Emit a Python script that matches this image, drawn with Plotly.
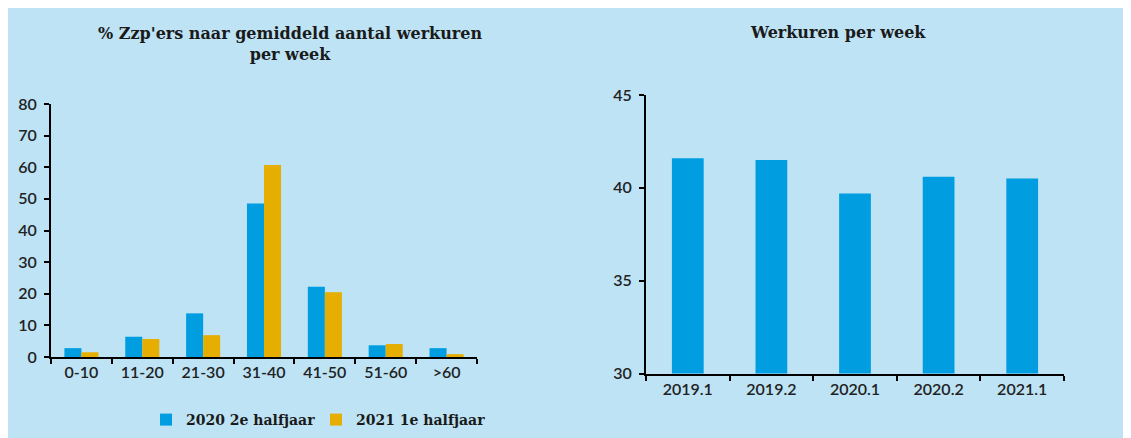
import plotly.graph_objects as go

# Page offset: the browser's default body margin places the figure at (8, 8)
OFF = 8
W, H = 1131 - OFF, 438 - OFF

# Left chart data
categories = ["0-10", "11-20", "21-30", "31-40", "41-50", "51-60", ">60"]
series_2020_h2 = [2.8, 6.4, 13.8, 48.5, 22.2, 3.7, 2.8]
series_2021_h1 = [1.5, 5.7, 6.9, 60.7, 20.5, 4.1, 0.9]
series_names = ["2020 2e halfjaar", "2021 1e halfjaar"]

# Right chart data
periods = ["2019.1", "2019.2", "2020.1", "2020.2", "2021.1"]
werkuren = [41.6, 41.5, 39.7, 40.6, 40.5]

BG = "#BDE3F5"
BLUE = "#009EE0"
ORANGE = "#E6AE00"
TXT = "#1a1a1a"
TICKFONT = dict(family="Lato, Open Sans, sans-serif", size=16, color="#222222", weight=600)
SERIF = "DejaVu Serif, Liberation Serif, serif"

def px(x):
    return (x - OFF) / W

def py(y):
    return 1 - (y - OFF) / H

fig = go.Figure()
fig.add_trace(go.Bar(x=categories, y=series_2020_h2, name=series_names[0],
                     marker=dict(color=BLUE, line=dict(width=0)), xaxis="x", yaxis="y"))
fig.add_trace(go.Bar(x=categories, y=series_2021_h1, name=series_names[1],
                     marker=dict(color=ORANGE, line=dict(width=0)), xaxis="x", yaxis="y"))
fig.add_trace(go.Bar(x=periods, y=werkuren, name="Werkuren", showlegend=False,
                     marker=dict(color=BLUE, line=dict(width=0)), xaxis="x2", yaxis="y2",
                     width=0.38))

axis_common = dict(showline=True, linecolor="black", linewidth=2, showgrid=False,
                   zeroline=False, ticks="outside", ticklen=5, tickwidth=2,
                   tickcolor="black", tickfont=TICKFONT, fixedrange=True, automargin=False)

fig.update_layout(
    width=W, height=H,
    margin=dict(l=0, r=0, t=0, b=0, autoexpand=False),
    paper_bgcolor=BG, plot_bgcolor="rgba(0,0,0,0)",
    barmode="group", bargap=0.44, bargroupgap=0,
    xaxis=dict(domain=[px(51), px(477)], anchor="y", tickson="boundaries", **axis_common),
    yaxis=dict(domain=[py(357), py(104)], anchor="x", range=[0, 80], dtick=10,
               ticklabelstandoff=4, **axis_common),
    xaxis2=dict(domain=[px(646), px(1064)], anchor="y2", tickson="boundaries", **axis_common),
    yaxis2=dict(domain=[py(373.5), py(95)], anchor="x2", range=[30, 45], dtick=5,
                ticklabelstandoff=4, **axis_common),
    legend=dict(orientation="h", x=px(146), y=py(420), yanchor="middle", xanchor="left",
                bgcolor="rgba(0,0,0,0)",
                font=dict(family=SERIF, size=14, color=TXT, weight="bold"),
                itemwidth=30, traceorder="normal", entrywidthmode="pixels", entrywidth=125),
    showlegend=True,
    annotations=[
        dict(text="% Zzp'ers naar gemiddeld aantal werkuren<br>per week", x=px(290), y=py(44),
             xref="paper", yref="paper", xanchor="center", yanchor="middle", showarrow=False,
             font=dict(family=SERIF, size=16, color=TXT, weight="bold")),
        dict(text="Werkuren per week", x=px(838), y=py(33),
             xref="paper", yref="paper", xanchor="center", yanchor="middle", showarrow=False,
             font=dict(family=SERIF, size=16, color=TXT, weight="bold")),
    ],
)

fig.write_html("out.html")
